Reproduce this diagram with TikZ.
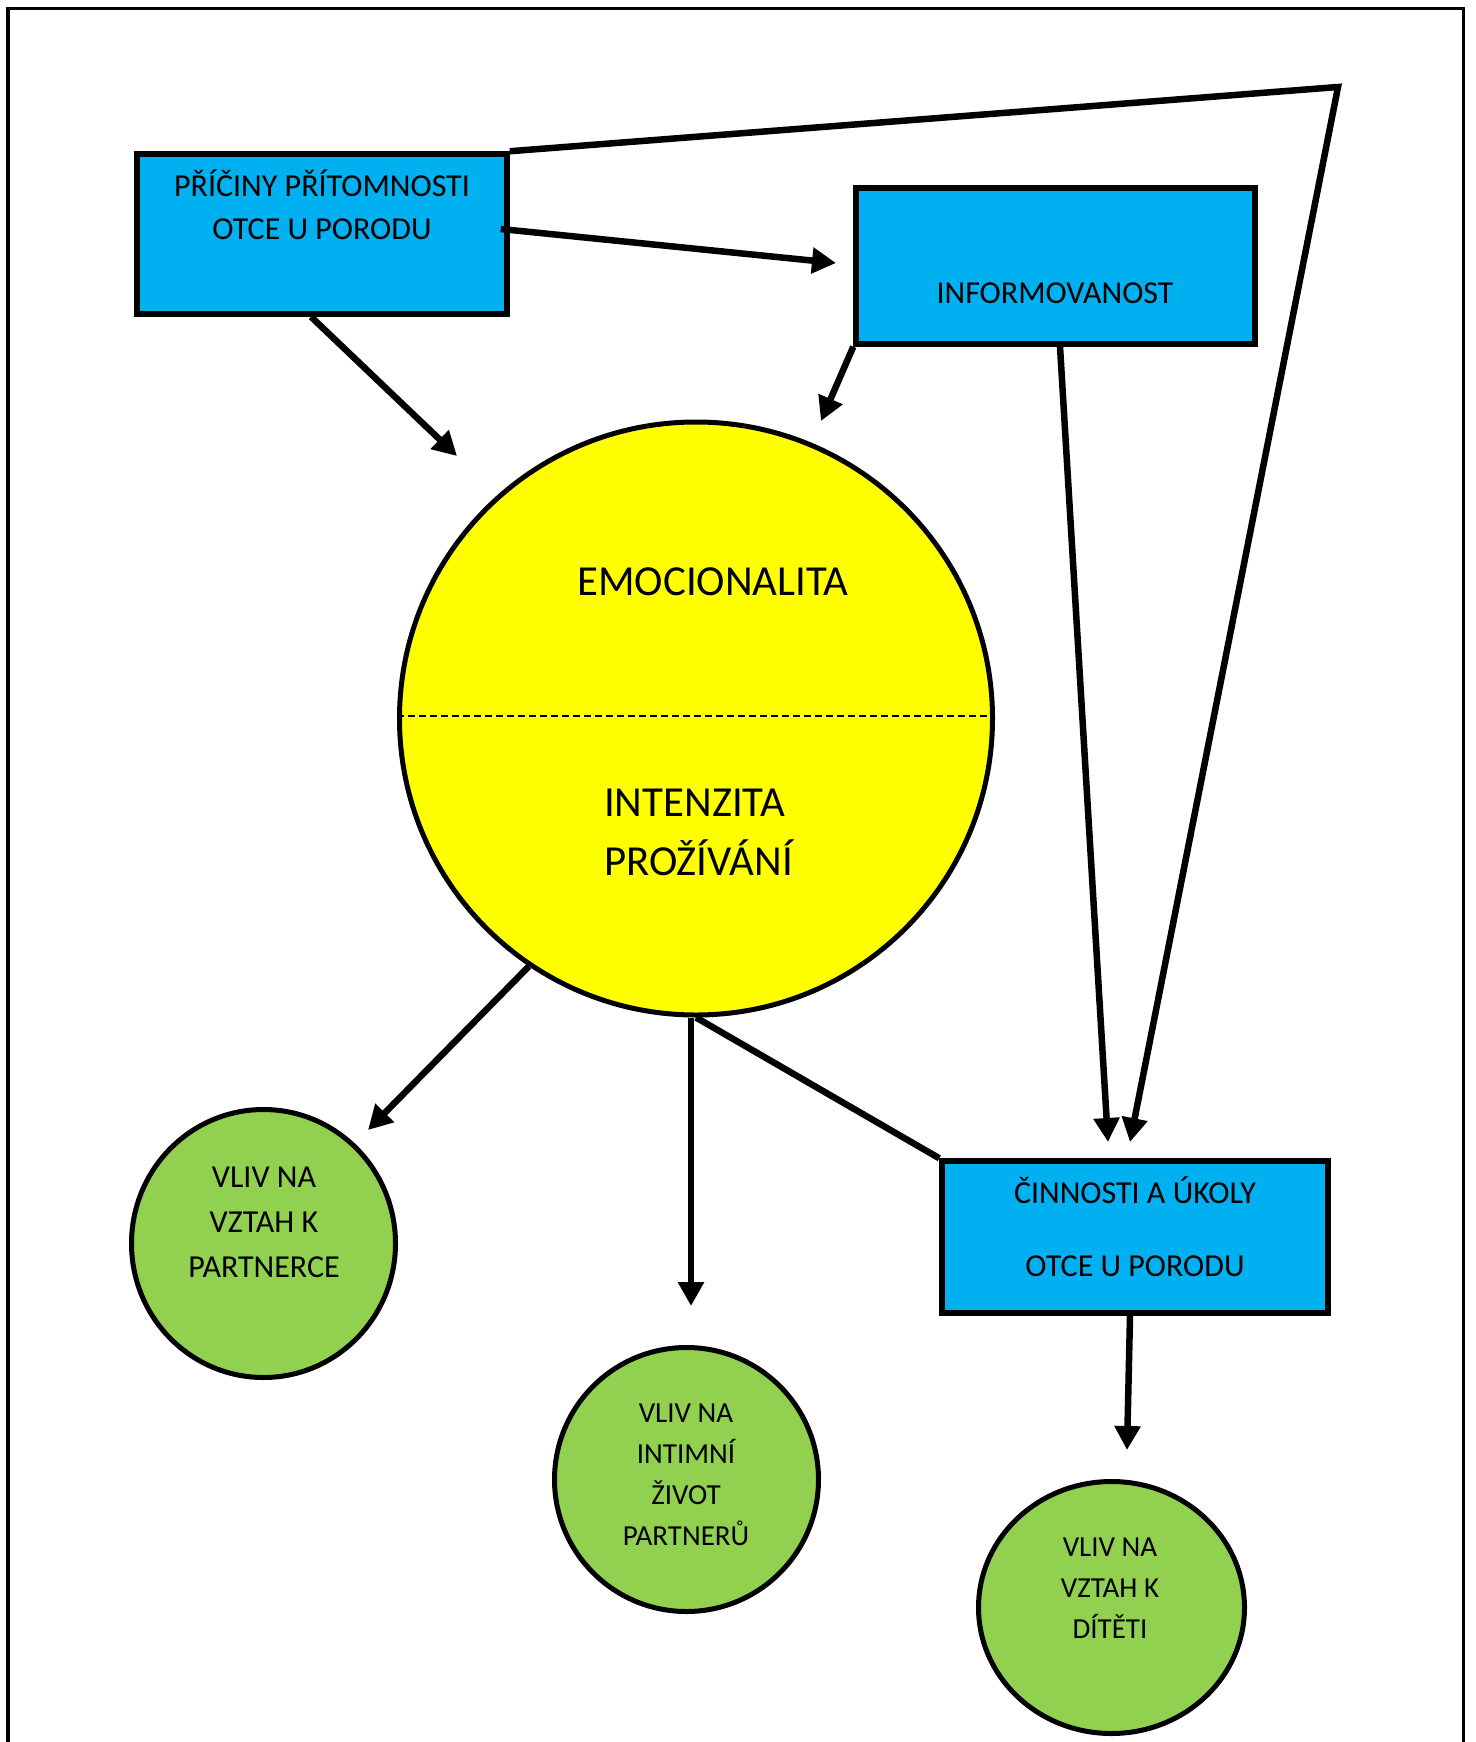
\documentclass[tikz,border=0pt]{standalone}
\usepackage{fontspec}
\setmainfont{Carlito}
\usetikzlibrary{arrows.meta,shapes.geometric}
\definecolor{boxblue}{HTML}{00B0F0}
\definecolor{sunyellow}{HTML}{FFFF00}
\definecolor{leafgreen}{HTML}{92D050}
\newcommand\myfsbox{\fontsize{32}{38}\selectfont}
\newcommand\myfsbig{\fontsize{42.8}{50}\selectfont}
\newcommand\myfssmall{\fontsize{29}{34}\selectfont}
\begin{document}
\begin{tikzpicture}[x=1pt,y=-1pt,
  bluebox/.style={draw, fill=boxblue, line width=5.5pt, rectangle, inner sep=0pt},
  greencirc/.style={draw, fill=leafgreen, line width=5pt, ellipse, inner sep=0pt},
  conn/.style={line width=6.5pt},
  arr/.style={conn, -{Triangle[length=24pt,width=25pt]}},
  lbl/.style={anchor=base, inner sep=0pt}]
\useasboundingbox (0,0) rectangle (1475,1742);
% frame
\coordinate (fbl) at (8,1745);
\coordinate (ftl) at (8,8.5);
\coordinate (ftr) at (1463.5,8.5);
\coordinate (fbr) at (1463.5,1745);
\draw[line width=3.5pt] (fbl) -- (ftl) -- (ftr) -- (fbr);

% boxes
\node[bluebox, minimum width=370pt, minimum height=160pt] (b1) at (322,234) {};
\node[bluebox, minimum width=399pt, minimum height=156pt] (b2) at (1055.5,266) {};
\node[bluebox, minimum width=386pt, minimum height=152pt] (b3) at (1135,1237) {};

% big circle
\node[draw, fill=sunyellow, line width=5pt, circle, minimum size=593pt, inner sep=0pt] (yc) at (696,718.5) {};
\draw[line width=1.5pt, dash pattern=on 7pt off 4pt] ([yshift=2.5pt]yc.west) -- ([yshift=2.5pt]yc.east);

% green circles
\node[greencirc, minimum width=264pt, minimum height=268pt] (g1) at (263.5,1243.5) {};
\node[greencirc, minimum width=264pt, minimum height=264pt] (g2) at (686.5,1479.5) {};
\node[greencirc, minimum width=266pt, minimum height=252pt] (g3) at (1111.5,1607.5) {};

% texts
\node[lbl, font=\myfsbox] (t1a) at (322,196) {PŘÍČINY PŘÍTOMNOSTI};
\node[lbl, font=\myfsbox] (t1b) at (322,239) {OTCE U PORODU};
\node[lbl, font=\myfsbox] (t2a) at (1055,303) {INFORMOVANOST};
\node[lbl, font=\myfsbox] (t3a) at (1135,1203) {ČINNOSTI A ÚKOLY};
\node[lbl, font=\myfsbox] (t3b) at (1135,1276) {OTCE U PORODU};
\node[lbl, font=\myfsbig] (tya) at (713,595) {EMOCIONALITA};
\node[lbl, font=\myfsbig, anchor=base west] (tyb) at (604,816) {INTENZITA};
\node[lbl, font=\myfsbig, anchor=base west] (tyc) at (604,875) {PROŽÍVÁNÍ};
\node[lbl, font=\myfsbox] (tg1a) at (264,1187) {VLIV NA};
\node[lbl, font=\myfsbox] (tg1b) at (264,1232) {VZTAH K};
\node[lbl, font=\myfsbox] (tg1c) at (264,1277) {PARTNERCE};
\node[lbl, font=\myfssmall] (tg2a) at (686,1422) {VLIV NA};
\node[lbl, font=\myfssmall] (tg2b) at (686,1463) {INTIMNÍ};
\node[lbl, font=\myfssmall] (tg2c) at (686,1504) {ŽIVOT};
\node[lbl, font=\myfssmall] (tg2d) at (686,1545) {PARTNERŮ};
\node[lbl, font=\myfssmall] (tg3a) at (1110,1556) {VLIV NA};
\node[lbl, font=\myfssmall] (tg3b) at (1110,1597) {VZTAH K};
\node[lbl, font=\myfssmall] (tg3c) at (1110,1638) {DÍTĚTI};

% free ends
\coordinate (corner) at (1338,87);
\coordinate (tipB) at (1130,1142);
\coordinate (tipA) at (1108,1142);
\coordinate (tip12) at (836,263);
\coordinate (tipE1) at (457,456);
\coordinate (tipE2) at (821,421);
\coordinate (tipG1) at (368,1130);
\coordinate (tipG2) at (691,1306);
\coordinate (tipG3) at (1127,1450);

% connectors
\draw[arr] (b1.north east) -- (corner) -- (tipB);
\draw[arr] ([xshift=-9pt,yshift=5pt]b1.east) -- (tip12);
\draw[arr] ([xshift=-11pt]b1.south) -- (tipE1);
\draw[arr] (b2.south west) -- (tipE2);
\draw[arr] ([xshift=4.5pt]b2.south) -- (tipA);
\draw[arr] (yc.-124.7) -- (tipG1);
\draw[arr] (yc.south -| tipG2) -- (tipG2);
\draw[conn] (yc.south) -- (b3.north west);
\draw[arr] ([xshift=-5pt]b3.south) -- (tipG3);
\end{tikzpicture}
\end{document}
